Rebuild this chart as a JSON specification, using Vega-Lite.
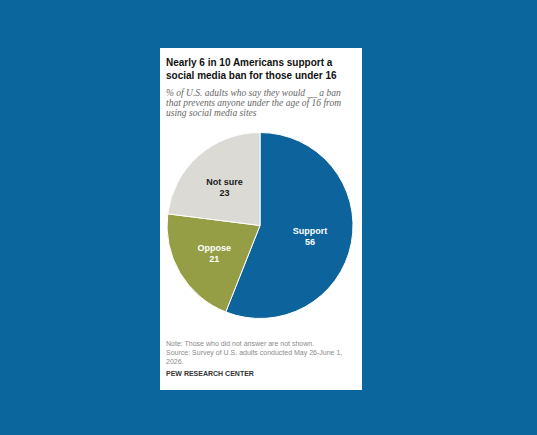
{
  "$schema": "https://vega.github.io/schema/vega-lite/v6.json",
  "background": "#0b669e",
  "padding": {"left": 160, "top": 48, "right": 175, "bottom": 45},
  "title": {
    "text": ["Note: Those who did not answer are not shown.", "Source: Survey of U.S. adults conducted May 26-June 1,", "2026."],
    "subtitle": "PEW RESEARCH CENTER",
    "orient": "bottom",
    "anchor": "start",
    "frame": "group",
    "offset": -50,
    "dx": 6,
    "font": "Liberation Sans",
    "fontSize": 7,
    "fontWeight": "normal",
    "color": "#8a8a8a",
    "lineHeight": 9,
    "subtitleFont": "Liberation Sans",
    "subtitleFontSize": 7,
    "subtitleFontWeight": "bold",
    "subtitleColor": "#333333",
    "subtitlePadding": 5
  },
  "vconcat": [
    {
      "width": 202,
      "height": 342,
      "view": {"fill": "white", "stroke": null},
      "title": {
        "text": ["Nearly 6 in 10 Americans support a", "social media ban for those under 16"],
        "subtitle": ["% of U.S. adults who say they would __ a ban", "that prevents anyone under the age of 16 from", "using social media sites"],
        "anchor": "start",
        "frame": "group",
        "offset": -69,
        "dx": 6,
        "font": "Liberation Sans",
        "fontSize": 10,
        "fontWeight": "bold",
        "color": "#111111",
        "lineHeight": 12.5,
        "subtitleFont": "Liberation Serif",
        "subtitleFontStyle": "italic",
        "subtitleFontSize": 9.5,
        "subtitleColor": "#666666",
        "subtitleLineHeight": 10,
        "subtitlePadding": 7
      },
      "data": {
        "values": [
          {"response": "Support", "value": 56},
          {"response": "Oppose", "value": 21},
          {"response": "Not sure", "value": 23}
        ]
      },
      "encoding": {
        "theta": {"field": "value", "type": "quantitative", "stack": true},
        "order": {"field": "response", "sort": "descending"}
      },
      "layer": [
        {
          "mark": {"type": "arc", "radius": 93, "stroke": "white", "strokeWidth": 1, "yOffset": 6.5, "xOffset": -1},
          "encoding": {
            "color": {
              "field": "response",
              "type": "nominal",
              "legend": null,
              "scale": {"domain": ["Support", "Oppose", "Not sure"], "range": ["#0d639c", "#959e45", "#dcdad5"]}
            }
          }
        },
        {
          "mark": {"type": "text", "radius": 52, "font": "Liberation Sans", "fontSize": 9, "fontWeight": "bold", "yOffset": 8, "xOffset": -2, "dy": -5.5},
          "encoding": {
            "text": {"field": "response", "type": "nominal"},
            "color": {"condition": {"test": "datum.response === 'Not sure'", "value": "#1a1a1a"}, "value": "white"}
          }
        },
        {
          "mark": {"type": "text", "radius": 52, "font": "Liberation Sans", "fontSize": 9, "fontWeight": "bold", "yOffset": 8, "xOffset": -2, "dy": 5.5},
          "encoding": {
            "text": {"field": "value", "type": "quantitative"},
            "color": {"condition": {"test": "datum.response === 'Not sure'", "value": "#1a1a1a"}, "value": "white"}
          }
        }
      ]
    }
  ],
  "config": {"view": {"stroke": null, "fill": "white"}}
}
